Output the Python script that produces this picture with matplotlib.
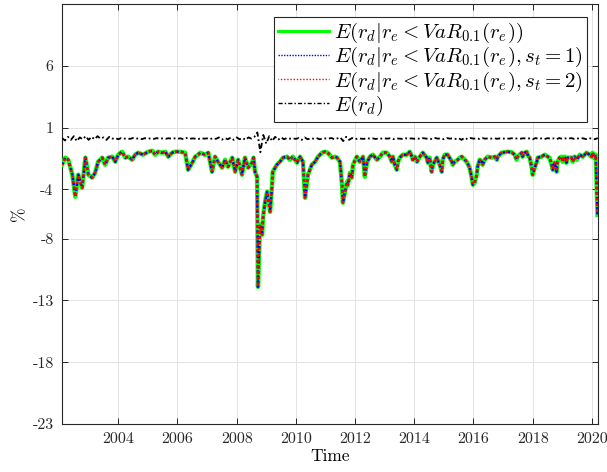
import numpy as np
import matplotlib
matplotlib.use("Agg")
import matplotlib.pyplot as plt

plt.rcParams['font.family'] = 'serif'
plt.rcParams['font.serif'] = ['cmr10']
plt.rcParams['mathtext.fontset'] = 'cm'
plt.rcParams['axes.unicode_minus'] = False
plt.rcParams['axes.formatter.use_mathtext'] = True

# ---------------- data ----------------
years_cond = [
    2002.10, 2002.21, 2002.31, 2002.45, 2002.55, 2002.65, 2002.78, 2002.89, 2002.99, 2003.12,
    2003.22, 2003.32, 2003.46, 2003.56, 2003.66, 2003.80, 2003.90, 2004.00, 2004.13, 2004.24,
    2004.34, 2004.47, 2004.57, 2004.67, 2004.84, 2005.01, 2005.15, 2005.25, 2005.35, 2005.48,
    2005.59, 2005.69, 2005.82, 2005.92, 2006.09, 2006.26, 2006.36, 2006.50, 2006.60, 2006.70,
    2006.77, 2006.93, 2007.04, 2007.17, 2007.27, 2007.37, 2007.51, 2007.61, 2007.71, 2007.85,
    2007.95, 2008.05, 2008.18, 2008.28, 2008.39, 2008.52, 2008.57, 2008.62, 2008.69, 2008.72,
    2008.79, 2008.86, 2008.89, 2008.96, 2009.03, 2009.06, 2009.13, 2009.19, 2009.22, 2009.36,
    2009.46, 2009.57, 2009.70, 2009.80, 2009.90, 2010.04, 2010.14, 2010.24, 2010.31, 2010.41,
    2010.54, 2010.65, 2010.75, 2010.88, 2010.98, 2011.08, 2011.22, 2011.32, 2011.39, 2011.49,
    2011.56, 2011.59, 2011.66, 2011.73, 2011.76, 2011.83, 2011.89, 2011.93, 2012.06, 2012.16,
    2012.27, 2012.33, 2012.40, 2012.50, 2012.60, 2012.74, 2012.84, 2012.94, 2013.07, 2013.18,
    2013.24, 2013.28, 2013.34, 2013.41, 2013.45, 2013.51, 2013.61, 2013.75, 2013.85, 2013.92,
    2013.95, 2014.02, 2014.09, 2014.19, 2014.29, 2014.42, 2014.46, 2014.52, 2014.59, 2014.63,
    2014.76, 2014.86, 2014.93, 2014.96, 2015.03, 2015.13, 2015.27, 2015.30, 2015.37, 2015.47,
    2015.54, 2015.60, 2015.64, 2015.77, 2015.87, 2015.94, 2015.98, 2016.04, 2016.11, 2016.14,
    2016.21, 2016.28, 2016.31, 2016.38, 2016.48, 2016.62, 2016.72, 2016.79, 2016.82, 2016.95,
    2017.06, 2017.16, 2017.29, 2017.39, 2017.46, 2017.49, 2017.63, 2017.66, 2017.73, 2017.80,
    2017.83, 2017.90, 2017.97, 2018.00, 2018.07, 2018.14, 2018.17, 2018.30, 2018.41, 2018.51,
    2018.57, 2018.64, 2018.68, 2018.74, 2018.81, 2018.84, 2018.91, 2018.98, 2019.01, 2019.08,
    2019.14, 2019.18, 2019.32, 2019.35, 2019.42, 2019.49, 2019.59, 2019.69, 2019.82, 2019.92,
    2019.99, 2020.02, 2020.09, 2020.13, 2020.19,
]

cond = [
    -2.01, -1.44, -1.61, -2.82, -4.60, -2.82, -3.88, -1.44, -2.82, -3.06,
    -2.66, -1.77, -1.44, -2.01, -1.44, -1.36, -1.77, -1.20, -0.96, -1.44,
    -1.36, -1.61, -1.20, -1.04, -1.20, -0.96, -0.88, -1.20, -0.96, -1.04,
    -0.96, -1.36, -1.04, -0.96, -0.96, -1.04, -2.42, -1.85, -1.36, -1.20,
    -1.04, -1.20, -1.04, -2.58, -1.36, -1.77, -2.25, -1.61, -2.17, -1.44,
    -2.58, -1.61, -2.82, -1.44, -2.25, -1.85, -1.44, -2.58, -2.98, -11.90,
    -6.87, -7.68, -6.31, -5.01, -4.20, -4.69, -5.82, -3.88, -2.58, -2.01,
    -1.77, -1.44, -1.36, -1.61, -1.36, -1.85, -1.36, -1.77, -4.69, -2.82,
    -2.01, -1.77, -1.36, -1.04, -0.96, -1.04, -1.44, -1.36, -1.44, -1.77,
    -3.63, -5.09, -4.20, -3.39, -3.63, -2.66, -3.06, -2.01, -1.36, -1.77,
    -1.36, -2.98, -1.85, -1.36, -1.20, -1.61, -1.36, -1.04, -1.04, -1.36,
    -1.77, -1.36, -2.01, -2.42, -1.77, -1.44, -1.20, -1.20, -0.96, -1.36,
    -1.61, -1.36, -1.77, -1.36, -1.04, -1.44, -1.85, -1.44, -2.58, -2.01,
    -1.44, -2.01, -2.58, -1.61, -1.20, -1.20, -1.77, -2.01, -1.77, -1.61,
    -1.44, -1.36, -1.44, -1.77, -2.25, -3.06, -3.63, -3.47, -2.82, -2.17,
    -1.61, -1.77, -2.01, -1.61, -1.36, -1.44, -1.36, -1.61, -1.36, -1.04,
    -1.00, -0.96, -1.00, -1.20, -1.61, -1.36, -1.04, -1.36, -1.04, -0.96,
    -1.20, -1.44, -2.25, -2.82, -2.25, -1.77, -1.44, -1.36, -1.20, -1.36,
    -1.44, -2.01, -2.42, -1.85, -2.58, -1.77, -1.44, -1.36, -1.77, -1.36,
    -1.85, -1.44, -1.44, -1.77, -1.36, -1.61, -1.20, -1.36, -1.04, -1.20,
    -1.36, -1.04, -1.44, -1.20, -6.06,
]

# regime-conditional series (visually indistinguishable from the unconditional one)
cond_s1 = list(cond)
cond_s2 = list(cond)

years_uncond = np.round(np.arange(2002.1, 2020.25, 0.1), 2)
uncond = [
    0.15, -0.05, 0.25, 0.00, 0.30, -0.10, 0.20, 0.05, 0.30, 0.00,
    0.25, 0.05, 0.30, 0.10, 0.20, 0.00, 0.25, 0.10, 0.15, 0.05,
    0.15, 0.10, 0.12, 0.08, 0.15, 0.10, 0.12, 0.06, 0.14, 0.10,
    0.12, 0.08, 0.14, 0.10, 0.12, 0.09, 0.13, 0.10, 0.12, 0.08,
    0.13, 0.05, 0.15, 0.08, 0.12, 0.10, 0.06, 0.14, 0.10, 0.12,
    0.05, 0.15, 0.08, 0.20, 0.02, 0.15, 0.05, 0.18, 0.00, 0.20,
    0.05, 0.15, 0.00, 0.20, 0.10, 0.25, 0.60, -1.00, 0.40, -0.30,
    0.30, -0.10, 0.25, 0.00, 0.20, 0.05, 0.15, 0.10, 0.12, 0.08,
    0.15, 0.00, 0.20, 0.05, 0.12, 0.10, 0.15, 0.05, 0.10, 0.12,
    0.10, 0.15, 0.05, 0.12, 0.20, -0.10, 0.25, 0.00, 0.15, 0.05,
    0.12, 0.10, 0.08, 0.14, 0.10, 0.12, 0.07, 0.13, 0.10, 0.12,
    0.10, 0.14, 0.06, 0.12, 0.10, 0.08, 0.13, 0.10, 0.12, 0.09,
    0.12, 0.08, 0.14, 0.10, 0.12, 0.06, 0.15, 0.10, 0.12, 0.05,
    0.15, 0.10, 0.12, 0.08, 0.14, 0.00, 0.18, 0.05, 0.15, 0.10,
    0.12, 0.08, 0.14, 0.10, 0.12, 0.10, 0.13, 0.09, 0.12, 0.10,
    0.12, 0.10, 0.13, 0.11, 0.12, 0.10, 0.13, 0.10, 0.12, 0.05,
    0.15, 0.08, 0.12, 0.06, 0.14, 0.10, 0.12, 0.05, 0.15, 0.08,
    0.12, 0.10, 0.14, 0.08, 0.12, 0.10, 0.13, 0.06, 0.14, 0.10,
    0.05, 0.15,
]

xticks = [2004, 2006, 2008, 2010, 2012, 2014, 2016, 2018, 2020]
yticks = [-23, -18, -13, -8, -4, 1, 6]
ytick_labels = ['-23', '-18', '-13', '-8', '-4', '1', '6']

labels = [r'$E(r_d|r_e<VaR_{0.1}(r_e))$',
          r'$E(r_d|r_e<VaR_{0.1}(r_e),s_t=1)$',
          r'$E(r_d|r_e<VaR_{0.1}(r_e),s_t=2)$',
          r'$E(r_d)$']

# ---------------- plot ----------------
W, H = 607, 472
fig = plt.figure(figsize=(W / 100, H / 100), dpi=100)
ax = fig.add_axes([62 / W, 1 - 424 / H, (597.5 - 62) / W, (424 - 4) / H])

ax.plot(years_cond, cond, color='#00ff00', lw=3.2, label=labels[0], zorder=3)
ax.plot(years_cond, cond_s1, color='#0000ff', lw=1.8, ls=(0, (1, 1)), label=labels[1], zorder=4)
ax.plot(years_cond, cond_s2, color='#ff0000', lw=1.8, ls=(0.6, (1, 1.3)), label=labels[2], zorder=5)
ax.plot(years_uncond, uncond, color='black', lw=1.3, ls=(0, (3, 1.5, 1, 1.5)), label=labels[3], zorder=6)

ax.set_xlim(2002.1, 2020.19)
ax.set_ylim(-23, 11)
ax.set_xticks(xticks)
ax.set_xticklabels([str(t) for t in xticks])
ax.set_yticks(yticks)
ax.set_yticklabels(ytick_labels)

ax.grid(True, color='#e3e3e3', lw=0.7)
ax.set_axisbelow(True)
for s in ax.spines.values():
    s.set_color('#262626')
    s.set_linewidth(0.8)
ax.tick_params(direction='in', length=4, width=0.7, top=True, right=True,
               colors='#262626', labelsize=11.5, pad=6)

ax.set_xlabel('Time', fontsize=12.5, labelpad=2)
ax.set_ylabel('%', fontsize=12.5, labelpad=4)

leg = ax.legend(loc='upper right', bbox_to_anchor=(587 / W, 1 - 17 / H),
                bbox_transform=fig.transFigure, borderaxespad=0, fontsize=15.0,
                handlelength=2.45, handletextpad=0.22, labelspacing=0.0,
                borderpad=0.2, fancybox=False, framealpha=1, edgecolor='#262626')
leg.get_frame().set_linewidth(0.8)
for h in leg.get_lines():
    h.set_linewidth(1.0)
leg.get_lines()[0].set_linewidth(2.2)

fig.savefig('out.png', dpi=100)
